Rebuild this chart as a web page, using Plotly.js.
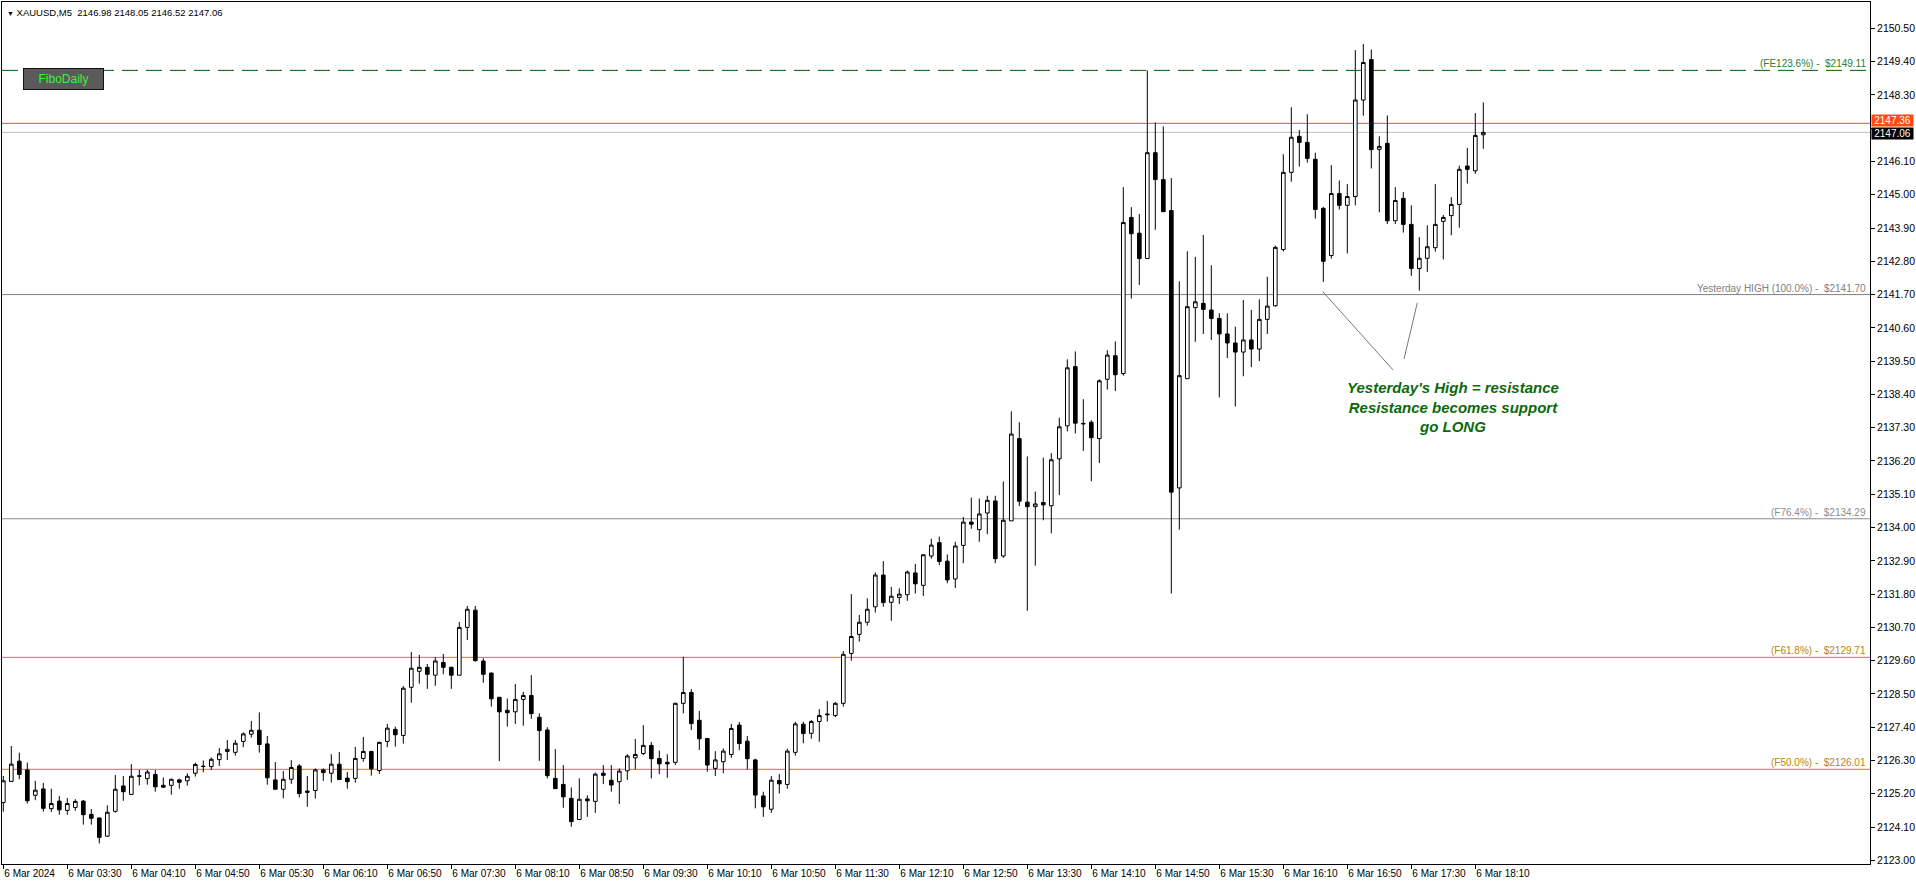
<!DOCTYPE html>
<html><head><meta charset="utf-8">
<script src="https://cdn.plot.ly/plotly-3.0.1.min.js"></script>
<style>html,body{margin:0;padding:0;background:#fff;}#chart{width:1916px;height:885px;}</style>
</head><body><div id="chart"></div>
<script>
const DAY = '2024-03-06';
const times = ['02:50','02:55',
'03:00','03:05','03:10','03:15','03:20','03:25','03:30','03:35','03:40','03:45','03:50','03:55',
'04:00','04:05','04:10','04:15','04:20','04:25','04:30','04:35','04:40','04:45','04:50','04:55',
'05:00','05:05','05:10','05:15','05:20','05:25','05:30','05:35','05:40','05:45','05:50','05:55',
'06:00','06:05','06:10','06:15','06:20','06:25','06:30','06:35','06:40','06:45','06:50','06:55',
'07:00','07:05','07:10','07:15','07:20','07:25','07:30','07:35','07:40','07:45','07:50','07:55',
'08:00','08:05','08:10','08:15','08:20','08:25','08:30','08:35','08:40','08:45','08:50','08:55',
'09:00','09:05','09:10','09:15','09:20','09:25','09:30','09:35','09:40','09:45','09:50','09:55',
'10:00','10:05','10:10','10:15','10:20','10:25','10:30','10:35','10:40','10:45','10:50','10:55',
'11:00','11:05','11:10','11:15','11:20','11:25','11:30','11:35','11:40','11:45','11:50','11:55',
'12:00','12:05','12:10','12:15','12:20','12:25','12:30','12:35','12:40','12:45','12:50','12:55',
'13:00','13:05','13:10','13:15','13:20','13:25','13:30','13:35','13:40','13:45','13:50','13:55',
'14:00','14:05','14:10','14:15','14:20','14:25','14:30','14:35','14:40','14:45','14:50','14:55',
'15:00','15:05','15:10','15:15','15:20','15:25','15:30','15:35','15:40','15:45','15:50','15:55',
'16:00','16:05','16:10','16:15','16:20','16:25','16:30','16:35','16:40','16:45','16:50','16:55',
'17:00','17:05','17:10','17:15','17:20','17:25','17:30','17:35','17:40','17:45','17:50','17:55',
'18:00','18:05','18:10','18:15'];

const open = [
2124.91,2125.61,2126.28,2125.99,2125.15,2125.36,2124.71,2124.96,2124.65,2124.75,
2124.96,2124.52,2124.40,2123.80,2124.62,2125.46,2125.18,2125.78,2125.70,2125.84,
2125.48,2125.48,2125.66,2125.63,2125.88,2126.10,2126.10,2126.33,2126.60,2126.57,
2126.93,2127.17,2127.30,2126.85,2125.66,2125.35,2125.68,2126.12,2125.29,2125.31,
2125.99,2125.88,2126.18,2125.72,2125.71,2126.37,2126.60,2125.97,2126.93,2127.33,
2127.13,2128.72,2129.25,2129.38,2129.12,2129.54,2129.38,2129.12,2130.70,2131.27,
2129.59,2129.19,2128.39,2127.96,2127.91,2128.32,2128.45,2127.73,2127.31,2125.71,
2125.51,2125.05,2124.35,2125.03,2124.95,2125.88,2125.65,2125.60,2125.96,2126.39,
2126.53,2126.80,2126.37,2126.24,2126.24,2128.19,2128.55,2127.63,2127.03,2126.04,
2126.26,2126.50,2127.47,2126.94,2126.32,2125.13,2124.69,2125.64,2125.51,2126.57,
2127.50,2127.20,2127.59,2127.81,2127.79,2128.19,2129.84,2130.47,2130.87,2131.38,
2132.43,2131.53,2131.69,2131.78,2132.50,2132.09,2133.06,2133.50,2132.89,2132.30,
2133.41,2134.18,2133.93,2134.48,2134.88,2133.06,2134.22,2136.94,2134.84,2134.69,
2134.83,2134.72,2136.27,2137.36,2139.32,2137.44,2137.48,2136.94,2138.90,2139.68,
2139.09,2144.25,2143.73,2142.89,2146.39,2145.50,2144.48,2135.31,2138.92,2141.27,
2141.41,2141.19,2140.91,2140.40,2140.10,2139.80,2140.20,2139.90,2140.88,2141.33,
2143.19,2145.74,2146.93,2146.73,2146.17,2144.55,2142.99,2145.04,2144.65,2144.94,
2148.13,2149.47,2146.50,2146.70,2144.14,2144.88,2144.02,2142.56,2142.90,2143.25,
2144.12,2144.31,2144.68,2145.95,2145.79,2146.98];

const high = [
2125.79,2126.78,2126.56,2126.23,2125.63,2125.56,2125.37,2125.13,2125.06,2125.02,
2124.99,2124.70,2124.42,2124.82,2125.82,2125.79,2126.18,2125.99,2125.99,2125.99,
2125.74,2125.70,2125.70,2125.88,2126.23,2126.30,2126.40,2126.71,2126.98,2126.98,
2127.23,2127.61,2127.89,2127.11,2126.25,2125.95,2126.31,2126.18,2125.79,2126.04,
2126.04,2126.51,2126.58,2125.92,2126.75,2127.08,2126.62,2126.92,2127.51,2127.42,
2128.76,2129.89,2129.79,2129.49,2129.72,2129.82,2129.40,2130.88,2131.41,2131.41,
2129.68,2129.21,2128.39,2128.35,2128.83,2128.57,2129.12,2127.86,2127.40,2126.68,
2126.15,2125.41,2125.71,2125.15,2125.90,2126.15,2126.15,2126.04,2126.51,2127.01,
2127.47,2126.91,2126.63,2126.51,2128.21,2129.73,2128.66,2127.94,2127.03,2126.61,
2126.70,2127.51,2127.57,2127.11,2126.36,2125.27,2125.79,2125.85,2126.69,2127.58,
2127.58,2127.64,2128.00,2128.27,2128.23,2129.92,2131.80,2131.11,2131.66,2132.52,
2132.89,2132.04,2131.99,2132.58,2132.80,2133.12,2133.63,2133.70,2133.11,2133.53,
2134.35,2134.99,2134.96,2135.05,2135.05,2135.52,2137.84,2137.48,2136.35,2135.19,
2136.31,2136.46,2137.63,2139.56,2139.82,2138.24,2137.55,2138.90,2139.86,2140.15,
2145.25,2144.59,2144.36,2149.11,2147.39,2147.26,2145.55,2142.14,2143.13,2142.95,
2143.67,2142.67,2141.08,2141.08,2140.64,2141.52,2141.19,2141.54,2142.29,2143.32,
2146.34,2147.89,2147.14,2147.66,2146.39,2144.60,2145.98,2145.47,2145.35,2149.78,
2149.98,2149.80,2146.93,2147.62,2145.25,2145.09,2144.65,2143.60,2143.99,2145.35,
2144.33,2144.92,2145.96,2146.55,2147.70,2148.05];

const low = [
2124.61,2125.59,2125.68,2124.88,2124.99,2124.61,2124.60,2124.51,2124.51,2124.64,
2124.18,2124.18,2123.56,2123.78,2124.58,2124.97,2125.18,2125.48,2125.50,2125.27,
2125.40,2125.17,2125.37,2125.47,2125.77,2125.91,2125.99,2126.12,2126.32,2126.46,
2126.74,2127.06,2126.56,2125.50,2125.35,2125.05,2125.53,2125.08,2124.77,2125.04,
2125.63,2125.57,2125.67,2125.37,2125.57,2126.26,2125.80,2125.86,2126.74,2126.76,
2126.86,2128.21,2128.84,2128.67,2128.77,2129.15,2128.67,2129.12,2130.28,2129.57,
2128.87,2128.08,2126.28,2127.42,2127.51,2127.45,2127.68,2126.29,2125.71,2125.37,
2124.74,2124.11,2124.35,2124.44,2124.57,2125.52,2125.27,2124.86,2125.66,2126.01,
2126.48,2125.71,2125.85,2125.73,2126.15,2127.86,2127.31,2126.65,2125.93,2125.79,
2125.88,2126.39,2126.64,2126.01,2124.72,2124.44,2124.57,2125.21,2125.37,2126.46,
2126.87,2127.02,2126.92,2127.59,2127.73,2128.08,2129.60,2130.23,2130.76,2131.19,
2131.38,2130.92,2131.47,2131.58,2131.82,2131.74,2132.97,2132.76,2132.16,2132.00,
2132.82,2133.96,2133.53,2133.78,2132.82,2133.00,2134.22,2134.71,2131.25,2132.74,
2134.24,2133.81,2135.07,2137.18,2137.11,2136.53,2135.53,2136.13,2138.56,2138.51,
2139.02,2141.57,2142.02,2142.89,2143.84,2144.44,2131.82,2133.93,2138.92,2140.14,
2140.40,2140.20,2138.30,2139.60,2138.00,2139.00,2139.30,2139.50,2140.40,2141.30,
2143.12,2145.43,2145.93,2146.06,2144.21,2142.12,2142.89,2144.51,2143.06,2144.65,
2147.61,2145.87,2144.42,2144.03,2144.03,2143.75,2142.32,2141.83,2142.45,2143.12,
2142.86,2143.66,2143.91,2145.37,2145.69,2146.52];

const close = [
2125.63,2126.18,2125.84,2124.97,2125.32,2124.72,2124.88,2124.67,2124.88,2124.95,
2124.51,2124.39,2123.76,2124.59,2125.35,2125.27,2125.78,2125.79,2125.92,2125.43,
2125.42,2125.68,2125.58,2125.78,2126.17,2126.11,2126.34,2126.52,2126.67,2126.87,
2127.18,2127.30,2126.83,2125.73,2125.35,2125.68,2126.07,2125.21,2125.25,2125.99,
2125.90,2126.18,2125.67,2125.60,2126.37,2126.60,2126.03,2126.90,2127.37,2127.15,
2128.69,2129.35,2129.38,2129.15,2129.59,2129.38,2129.12,2130.70,2131.30,2129.60,
2129.15,2128.34,2127.91,2127.88,2128.32,2128.45,2127.85,2127.29,2125.80,2125.37,
2125.10,2124.28,2125.02,2124.97,2125.85,2125.81,2125.49,2125.95,2126.45,2126.50,
2126.80,2126.36,2126.19,2126.19,2128.19,2128.55,2127.52,2127.02,2126.15,2126.32,
2126.61,2127.36,2126.86,2126.36,2125.16,2124.77,2125.65,2125.53,2126.61,2127.51,
2127.19,2127.59,2127.79,2127.83,2128.19,2129.81,2130.40,2130.87,2131.30,2132.43,
2131.52,2131.73,2131.80,2132.53,2132.14,2133.10,2133.42,2132.88,2132.27,2133.39,
2134.18,2134.11,2134.45,2134.90,2132.97,2134.24,2137.09,2134.87,2134.69,2134.78,
2134.75,2136.24,2137.33,2139.28,2137.45,2137.43,2136.97,2138.85,2139.70,2139.05,
2144.08,2143.71,2142.89,2146.39,2145.50,2144.44,2135.17,2139.02,2141.30,2141.46,
2141.21,2140.91,2140.40,2140.10,2139.80,2140.20,2139.90,2140.88,2141.32,2143.26,
2145.74,2146.90,2146.73,2146.20,2144.51,2142.80,2145.04,2144.65,2144.94,2148.13,
2149.37,2146.49,2146.60,2144.14,2144.81,2144.02,2142.56,2142.90,2143.28,2144.02,
2144.25,2144.68,2145.84,2145.84,2146.96,2147.06];

const priceTicks = [2123.00,2124.10,2125.20,2126.30,2127.40,2128.50,2129.60,2130.70,2131.80,2132.90,
2134.00,2135.10,2136.20,2137.30,2138.40,2139.50,2140.60,2141.70,2142.80,2143.90,
2145.00,2146.10,2147.20,2148.30,2149.40,2150.50];
const timeTicks = ['02:50','03:30','04:10','04:50','05:30','06:10','06:50','07:30','08:10','08:50','09:30','10:10',
'10:50','11:30','12:10','12:50','13:30','14:10','14:50','15:30','16:10','16:50','17:30','18:10'];
const timeTickLabels = ['6 Mar 2024','6 Mar 03:30','6 Mar 04:10','6 Mar 04:50','6 Mar 05:30','6 Mar 06:10','6 Mar 06:50',
'6 Mar 07:30','6 Mar 08:10','6 Mar 08:50','6 Mar 09:30','6 Mar 10:10','6 Mar 10:50','6 Mar 11:30','6 Mar 12:10',
'6 Mar 12:50','6 Mar 13:30','6 Mar 14:10','6 Mar 14:50','6 Mar 15:30','6 Mar 16:10','6 Mar 16:50','6 Mar 17:30','6 Mar 18:10'];

const fibLevels = [2149.11, 2141.70, 2134.29, 2129.71, 2126.01];
const fibNames = ['(FE123.6%)', 'Yesterday HIGH (100.0%)', '(F76.4%)', '(F61.8%)', '(F50.0%)'];
const askPrice = 2147.36;
const bidPrice = close[close.length - 1];
const symbol = 'XAUUSD,M5';
const noteLines = ["Yesterday's High = resistance", 'Resistance becomes support', 'go LONG'];
const noteAt = ['17:55:54', 2137.99];
const pointers = [[['16:34:37', 2141.80], ['17:18:34', 2139.21]], [['17:33:45', 2141.43], ['17:25:27', 2139.57]]];

// styles
const fibLine = [
  {color:'#006400', dash:'16px,8px', text:'#2E7D32'},
  {color:'#808080', dash:'solid', text:'#808080'},
  {color:'#8C8C8C', dash:'solid', text:'#8C8C8C'},
  {color:'#B8860B', dash:'solid', text:'#B8860B'},
  {color:'#B8860B', dash:'solid', text:'#B8860B'}
];
const FONT = 'Liberation Sans, Arial, sans-serif';
const T = t => DAY + ' ' + t;
const xs = times.map(T);

const shapes = [];
const annotations = [];
fibLevels.forEach((lv, k) => {
  shapes.push({type:'line', xref:'paper', x0:0, x1:1, yref:'y', y0:lv, y1:lv, layer:'below',
    line:{color:fibLine[k].color, width:1, dash:fibLine[k].dash}});
  annotations.push({xref:'paper', x:1, xanchor:'right', xshift:-2, yref:'y', y:lv, yanchor:'bottom', yshift:-1,
    text: fibNames[k] + ' - &nbsp;$' + lv.toFixed(2), showarrow:false,
    font:{family:FONT, size:10, color:fibLine[k].text}});
});
shapes.push({type:'line', xref:'paper', x0:0, x1:1, yref:'y', y0:askPrice, y1:askPrice, layer:'below', line:{color:'#FF4A12', width:1}});
shapes.push({type:'line', xref:'paper', x0:0, x1:1, yref:'y', y0:bidPrice, y1:bidPrice, layer:'below', line:{color:'#C0C0C0', width:1}});
pointers.forEach(p => {
  shapes.push({type:'line', xref:'x', yref:'y', x0:T(p[0][0]), y0:p[0][1], x1:T(p[1][0]), y1:p[1][1],
    line:{color:'#6E7B88', width:1}});
});

annotations.push({xref:'paper', x:1, xanchor:'left', xshift:1, yref:'y', y:askPrice, yanchor:'middle', yshift:3,
  text:askPrice.toFixed(2), showarrow:false, bgcolor:'#FF4A12', borderpad:0, width:41, height:11,
  font:{family:FONT, size:10, color:'#fff'}});
annotations.push({xref:'paper', x:1, xanchor:'left', xshift:1, yref:'y', y:bidPrice, yanchor:'middle', yshift:-1,
  text:bidPrice.toFixed(2), showarrow:false, bgcolor:'#000', borderpad:0, width:41, height:11,
  font:{family:FONT, size:10, color:'#fff'}});
const n = close.length - 1;
annotations.push({xref:'paper', yref:'paper', x:0, y:1, xanchor:'left', yanchor:'top', xshift:3, yshift:-3,
  text:'<span style="font-size:7px">▼</span> ' + symbol + ' &nbsp;' + [open[n],high[n],low[n],close[n]].map(v=>v.toFixed(2)).join(' '),
  showarrow:false, align:'left', font:{family:FONT, size:9.5, color:'#000'}});
annotations.push({xref:'paper', yref:'paper', x:21/1868, y:1-66/862, xanchor:'left', yanchor:'top',
  text:'FiboDaily', showarrow:false, bgcolor:'#5A5A5A', bordercolor:'#111', borderwidth:1, width:77, height:18,
  font:{family:FONT, size:12, color:'#3CF03C'}});
annotations.push({xref:'x', yref:'y', x:T(noteAt[0]), y:noteAt[1], xanchor:'center', yanchor:'middle',
  text:noteLines.map(s=>'<b><i>'+s+'</i></b>').join('<br>'), showarrow:false, align:'center',
  font:{family:FONT, size:15, color:'#0A6A0A'}});

// price-axis labels hidden behind the ask/bid boxes (as on the terminal)
const tickText = priceTicks.map(v => (Math.abs(v - askPrice) < 0.25 || Math.abs(v - bidPrice) < 0.25) ? '' : v.toFixed(2));

const trace = {
  type:'candlestick', x:xs, open:open, high:high, low:low, close:close,
  increasing:{line:{color:'#000', width:1}, fillcolor:'#FFFFFF'},
  decreasing:{line:{color:'#000', width:1}, fillcolor:'#000000'},
  whiskerwidth:0, hoverinfo:'none'
};

const layout = {
  width:1916, height:885,
  margin:{l:2, r:46, t:2, b:21, pad:0},
  paper_bgcolor:'#FFFFFF', plot_bgcolor:'#FFFFFF',
  showlegend:false, boxgap:0.35,
  xaxis:{type:'date', range:[T('02:49:11'), T('22:16:41')], rangeslider:{visible:false},
    tickmode:'array', tickvals:timeTicks.map(T), ticktext:timeTickLabels,
    ticks:'outside', ticklen:4, tickcolor:'#000', ticklabelposition:'outside right',
    showline:true, linecolor:'#000', linewidth:1, mirror:true, showgrid:false, zeroline:false,
    tickfont:{family:FONT, size:10, color:'#000'}, fixedrange:true},
  yaxis:{side:'right', range:[2122.88, 2151.37], tickmode:'array', tickvals:priceTicks,
    ticktext:tickText, ticks:'outside', ticklen:4, tickcolor:'#000',
    showline:true, linecolor:'#000', linewidth:1, mirror:true, showgrid:false, zeroline:false,
    tickfont:{family:FONT, size:10.5, color:'#000'}, fixedrange:true},
  shapes:shapes, annotations:annotations
};

Plotly.newPlot('chart', [trace], layout, {displayModeBar:false, staticPlot:true});
</script></body></html>
